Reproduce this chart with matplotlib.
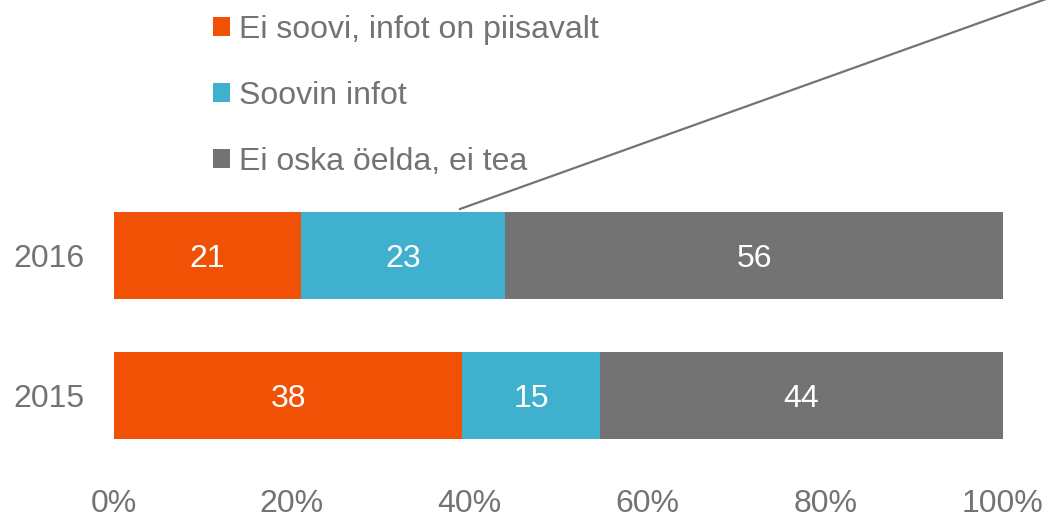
import matplotlib
matplotlib.use("Agg")
import matplotlib.pyplot as plt
from matplotlib.patches import Patch
from matplotlib.lines import Line2D
import numpy as np

plt.rcParams['font.family'] = ['Liberation Sans', 'DejaVu Sans']

# andmed
years = ['2015', '2016']
series_names = ['Ei soovi, infot on piisavalt', 'Soovin infot', 'Ei oska öelda, ei tea']
values = {
    'Ei soovi, infot on piisavalt': [38, 21],
    'Soovin infot': [15, 23],
    'Ei oska öelda, ei tea': [44, 56],
}
colors = ['#F05105', '#3FB1CE', '#737373']
tick_vals = [0, 20, 40, 60, 80, 100]
text_gray = '#737373'

fig = plt.figure(figsize=(10.51, 5.19), dpi=100)
W, H = 1051, 519
# telje asukoht pikslites
ax = fig.add_axes([114 / W, (H - 450) / H, (1003 - 114) / W, 250 / H])

y = np.arange(len(years))
totals = np.sum([values[s] for s in series_names], axis=0)
left = np.zeros(len(years))
for name, c in zip(series_names, colors):
    v = np.array(values[name], dtype=float)
    share = v / totals * 100
    ax.barh(y, share, left=left, height=0.62, color=c, edgecolor='none')
    for yi, (l, s, raw) in enumerate(zip(left, share, v)):
        ax.text(l + s / 2, yi, f'{raw:.0f}', ha='center', va='center_baseline',
                color='white', fontsize=23)
    left += share

ax.set_xlim(0, 100)
ax.set_ylim(-0.389, 1.396)
ax.set_yticks(y)
ax.set_yticklabels(years)
ax.set_xticks(tick_vals)
ax.set_xticklabels([f'{t}%' for t in tick_vals])
ax.tick_params(axis='x', length=0, pad=28, labelsize=23, labelcolor=text_gray)
ax.tick_params(axis='y', length=0, pad=21, labelsize=23, labelcolor=text_gray)
for sp in ax.spines.values():
    sp.set_visible(False)

# legend
handles = [Patch(facecolor=c, edgecolor='none') for c in colors]
leg = fig.legend(handles, series_names, loc='upper left',
                 bbox_to_anchor=(213 / W, 1 - 15 / H), frameon=False,
                 fontsize=23, labelcolor=text_gray, handlelength=0.53,
                 handleheight=0.53, handletextpad=0.27, labelspacing=1.13,
                 borderpad=0, borderaxespad=0)

# joon
fig.add_artist(Line2D([460 / W, 1046 / W], [1 - 209 / H, 1 + 1 / H],
                      transform=fig.transFigure, color='#737373', lw=1.6))

fig.savefig('out.png', dpi=100)
